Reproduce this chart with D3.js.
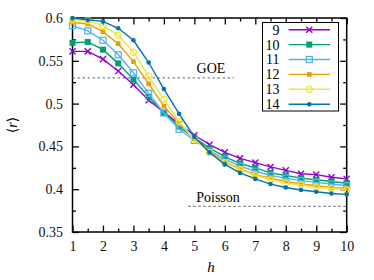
<!DOCTYPE html>
<html>
<head>
<meta charset="utf-8">
<script src="https://cdn.jsdelivr.net/npm/d3@7"></script>
<style>
body { margin: 0; background: #fff; }
text { font-family: "Liberation Serif", "DejaVu Serif", serif; }
</style>
</head>
<body>
<svg id="chart" width="374" height="280"></svg>
<script>
// h values (sampled every 0.5)
var hValues = [1, 1.5, 2, 2.5, 3, 3.5, 4, 4.5, 5, 5.5, 6, 6.5, 7, 7.5, 8, 8.5, 9, 9.5, 10];

var sizes = ["9", "10", "11", "12", "13", "14"];
var colors = ["#9400d3", "#009e73", "#56b4e9", "#e69f00", "#f0e442", "#0072b2"];
var markers = ["cross", "fsquare", "osquare", "ssquare", "ocircle", "fcircle"];

var r9  = [0.561, 0.561, 0.552, 0.538, 0.522, 0.504, 0.490, 0.476, 0.463, 0.452, 0.443, 0.436, 0.431, 0.426, 0.422, 0.418, 0.417, 0.414, 0.412];
var r10 = [0.571, 0.572, 0.563, 0.547, 0.528, 0.508, 0.489, 0.473, 0.460, 0.448, 0.438, 0.430, 0.425, 0.419, 0.416, 0.413, 0.411, 0.409, 0.407];
var r11 = [0.591, 0.585, 0.574, 0.557, 0.536, 0.512, 0.489, 0.470, 0.457, 0.445, 0.435, 0.427, 0.421, 0.416, 0.413, 0.410, 0.408, 0.406, 0.404];
var r12 = [0.595, 0.593, 0.584, 0.570, 0.549, 0.523, 0.497, 0.477, 0.459, 0.444, 0.432, 0.424, 0.417, 0.413, 0.409, 0.406, 0.404, 0.402, 0.401];
var r13 = [0.598, 0.597, 0.591, 0.580, 0.560, 0.532, 0.505, 0.479, 0.458, 0.443, 0.431, 0.423, 0.416, 0.411, 0.407, 0.405, 0.402, 0.401, 0.399];
var r14 = [0.600, 0.598, 0.596, 0.588, 0.574, 0.548, 0.517, 0.488, 0.461, 0.443, 0.429, 0.419, 0.412, 0.406, 0.402, 0.399, 0.397, 0.395, 0.394];
var series = [r9, r10, r11, r12, r13, r14];

var goeValue = 0.53, goeRange = [1, 6.3];
var poissonValue = 0.38, poissonRange = [4.8, 10];

var xTicks = [1, 2, 3, 4, 5, 6, 7, 8, 9, 10];
var yTicks = [0.35, 0.4, 0.45, 0.5, 0.55, 0.6];

var svg = d3.select("#chart");
var pl = 72.5, pr = 346.7, pt = 18, pb = 232;

var x = d3.scaleLinear().domain([1, 10]).range([pl, pr]);
var y = d3.scaleLinear().domain([0.35, 0.6]).range([pb, pt]);

// minor + major ticks, drawn inward on all four sides
var xMinor = d3.range(1.5, 10, 1), yMinor = d3.range(0.375, 0.6, 0.05);
function tickAxis(axis, tv, len) {
	return axis.tickValues(tv).tickSizeInner(-len).tickSizeOuter(0).tickFormat("");
}
var ax = svg.append("g").attr("class", "axes");
ax.append("g").attr("transform", "translate(0," + pb + ")").call(tickAxis(d3.axisBottom(x), xMinor, 3.5));
ax.append("g").attr("transform", "translate(0," + pt + ")").call(tickAxis(d3.axisTop(x), xMinor, 3.5));
ax.append("g").attr("transform", "translate(" + pl + ",0)").call(tickAxis(d3.axisLeft(y), yMinor, 3.5));
ax.append("g").attr("transform", "translate(" + pr + ",0)").call(tickAxis(d3.axisRight(y), yMinor, 3.5));

var gx = ax.append("g").attr("transform", "translate(0," + pb + ")")
	.call(d3.axisBottom(x).tickValues(xTicks).tickSizeInner(-6.5).tickSizeOuter(0).tickPadding(9.5).tickFormat(d3.format("d")));
ax.append("g").attr("transform", "translate(0," + pt + ")").call(tickAxis(d3.axisTop(x), xTicks, 6.5));
var gy = ax.append("g").attr("transform", "translate(" + pl + ",0)")
	.call(d3.axisLeft(y).tickValues(yTicks).tickSizeInner(-6.5).tickSizeOuter(0).tickPadding(9.5).tickFormat(d3.format("~g")));
ax.append("g").attr("transform", "translate(" + pr + ",0)").call(tickAxis(d3.axisRight(y), yTicks, 6.5));

ax.selectAll(".domain").remove();
ax.selectAll(".tick line").attr("stroke", "#000").attr("stroke-width", 1.3);
ax.selectAll("text").attr("font-size", 14).attr("fill", "#111")
	.style("font-family", "'Liberation Serif', serif");

svg.append("rect").attr("x", pl).attr("y", pt)
	.attr("width", pr - pl).attr("height", pb - pt)
	.attr("fill", "none").attr("stroke", "#000").attr("stroke-width", 1.5);

// reference lines
function refLine(val, rng) {
	svg.append("line")
		.attr("x1", x(rng[0])).attr("x2", x(rng[1]))
		.attr("y1", y(val)).attr("y2", y(val))
		.attr("stroke", "#666").attr("stroke-width", 1).attr("stroke-dasharray", "2.5,2.5");
}
refLine(goeValue, goeRange);
refLine(poissonValue, poissonRange);
svg.append("text").attr("x", 211).attr("y", 73).attr("text-anchor", "middle")
	.attr("font-size", 14).text("GOE");
svg.append("text").attr("x", 218).attr("y", 202).attr("text-anchor", "middle")
	.attr("font-size", 14).text("Poisson");

// markers
function drawMarker(g, kind, col, cx, cy) {
	if (kind === "cross") {
		g.append("path").attr("d", d3.symbol(d3.symbolX, 26)())
			.attr("transform", "translate(" + cx + "," + cy + ")")
			.attr("fill", "none").attr("stroke", col).attr("stroke-width", 1.4);
	} else if (kind === "fsquare") {
		g.append("rect").attr("x", cx - 3).attr("y", cy - 3).attr("width", 6).attr("height", 6).attr("fill", col);
	} else if (kind === "osquare") {
		g.append("rect").attr("x", cx - 3).attr("y", cy - 3).attr("width", 6).attr("height", 6)
			.attr("fill", "none").attr("stroke", col).attr("stroke-width", 1.3);
	} else if (kind === "ssquare") {
		g.append("rect").attr("x", cx - 2.3).attr("y", cy - 2.3).attr("width", 4.6).attr("height", 4.6).attr("fill", col);
	} else if (kind === "ocircle") {
		g.append("circle").attr("cx", cx).attr("cy", cy).attr("r", 3)
			.attr("fill", "none").attr("stroke", col).attr("stroke-width", 1.3);
	} else {
		g.append("circle").attr("cx", cx).attr("cy", cy).attr("r", 2.3).attr("fill", col);
	}
}

var line = d3.line().x(function(d) { return x(d[0]); }).y(function(d) { return y(d[1]); });

series.forEach(function(vals, i) {
	var pts = hValues.map(function(h, j) { return [h, vals[j]]; });
	var g = svg.append("g");
	g.append("path").attr("d", line(pts)).attr("fill", "none")
		.attr("stroke", colors[i]).attr("stroke-width", 1.4);
	pts.forEach(function(p) { drawMarker(g, markers[i], colors[i], x(p[0]), y(p[1])); });
});

// legend
var lg = svg.append("g");
lg.append("rect").attr("x", 262.5).attr("y", 22.5).attr("width", 76).attr("height", 88.5)
	.attr("fill", "#fff").attr("stroke", "#000").attr("stroke-width", 1);
sizes.forEach(function(s, i) {
	var ly = 29.7 + i * 14.9;
	lg.append("text").attr("x", 279.5).attr("y", ly).attr("dy", "0.35em")
		.attr("text-anchor", "end").attr("font-size", 14).text(s);
	lg.append("line").attr("x1", 288.7).attr("x2", 330).attr("y1", ly).attr("y2", ly)
		.attr("stroke", colors[i]).attr("stroke-width", 1.4);
	drawMarker(lg, markers[i], colors[i], 309.3, ly);
});

// axis titles
svg.append("text").attr("x", 211).attr("y", 272).attr("text-anchor", "middle")
	.attr("font-size", 15).attr("font-style", "italic").text("h");
svg.append("text").attr("transform", "translate(17,125) rotate(-90)")
	.attr("text-anchor", "middle").attr("font-size", 14)
	.html("⟨<tspan font-style='italic'>r</tspan>⟩");
</script>
</body>
</html>
